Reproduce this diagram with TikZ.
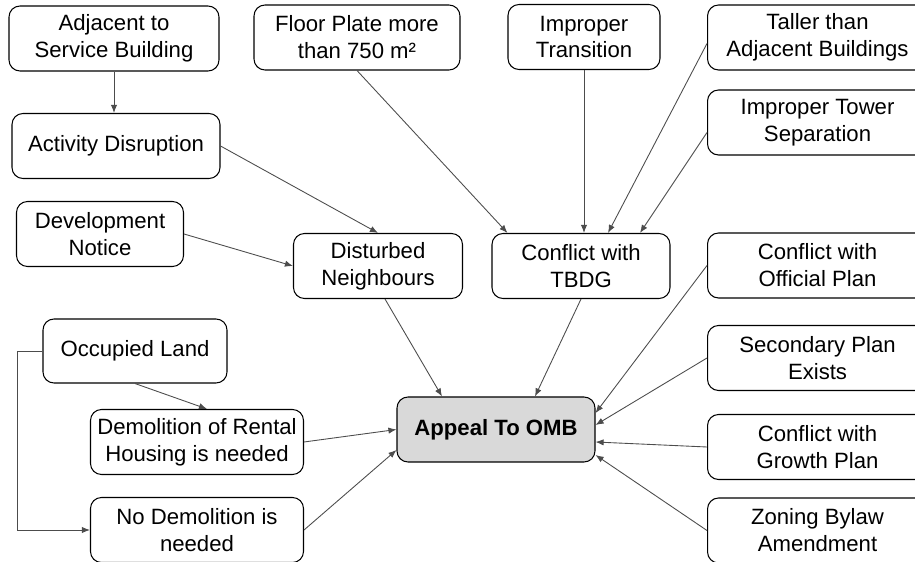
\documentclass[tikz,border=0pt]{standalone}
\usepackage{fontspec}
\setmainfont{Liberation Sans}
\usetikzlibrary{arrows.meta}

\begin{document}
\begin{tikzpicture}[>={Latex[length=4.6pt,width=3.6pt]},
    box/.style={draw, line width=0.6pt, rounded corners=0.22cm, align=center,
      minimum height=1.3cm, inner sep=0pt,
      font=\fontsize{12.6}{15.3}\selectfont},
    goal/.style={box, fill=black!15, font=\fontsize{12.6}{15.3}\selectfont\bfseries},
    link/.style={->, draw=black!70, line width=0.5pt}]

  \clip (0,0) rectangle (18.3,-11.24);

  % ============================================================
  % TOP ROW
  % ============================================================

  \node[box, minimum width=4.2cm]  (adj)   at (2.28,-0.77) {Adjacent to\\Service Building};
  \node[box, minimum width=4.12cm] (floor) at (7.14,-0.75) {Floor Plate more\\than 750 m²};
  \node[box, minimum width=3.04cm] (imptr) at (11.68,-0.74) {Improper\\Transition};

  % Right column (runs off the page)
  \node[box, minimum width=4.4cm, anchor=west] (tall)   at (14.14,-0.75)  {Taller than\\Adjacent Buildings};
  \node[box, minimum width=4.4cm, anchor=west] (tower)  at (14.14,-2.45)  {Improper Tower\\Separation};
  \node[box, minimum width=4.4cm, anchor=west] (off)    at (14.14,-5.31)  {Conflict with\\Official Plan};
  \node[box, minimum width=4.4cm, anchor=west] (sec)    at (14.14,-7.16)  {Secondary Plan\\Exists};
  \node[box, minimum width=4.4cm, anchor=west] (growth) at (14.14,-8.94)  {Conflict with\\Growth Plan};
  \node[box, minimum width=4.4cm, anchor=west] (zoning) at (14.14,-10.61) {Zoning Bylaw\\Amendment};

  % ============================================================
  % MIDDLE
  % ============================================================

  \node[box, minimum width=4.16cm] (act)  at (2.32,-2.92) {Activity Disruption};
  \node[box, minimum width=3.34cm] (dev)  at (2.0,-4.68)  {Development\\Notice};
  \node[box, minimum width=3.38cm] (dist) at (7.56,-5.32) {Disturbed\\Neighbours};
  \node[box, minimum width=3.56cm] (tbdg) at (11.62,-5.32) {Conflict with\\TBDG};

  % ============================================================
  % BOTTOM
  % ============================================================

  \node[box, minimum width=3.68cm, minimum height=1.28cm] (occ) at (2.7,-7.02) {Occupied Land};
  \node[box, minimum width=4.26cm] (demol) at (3.94,-8.84) {Demolition of Rental\\Housing is needed};
  \node[box, minimum width=4.26cm] (nodem) at (3.94,-10.6) {No Demolition is\\needed};

  \node[goal, minimum width=3.96cm] (omb) at (9.92,-8.59) {Appeal To OMB};

  % ============================================================
  % CONNECTORS
  % ============================================================

  \draw[link] (adj.south) -- (adj.south |- act.north);
  \draw[link] (act.east) -- (dist.north);
  \draw[link] (dev.east) -- (dist.west);

  % Into TBDG
  \draw[link] (floor.south) -- ([xshift=0.32cm]tbdg.north west);
  \draw[link] (imptr.south) -- (imptr.south |- tbdg.north);
  \draw[link] ([yshift=-0.12cm]tall.west) -- ([xshift=0.54cm]tbdg.north);
  \draw[link] ([yshift=-0.2cm]tower.west) -- ([xshift=1.18cm]tbdg.north);

  % Into the appeal
  \draw[link] (dist.south) ++(0.14,0) -- ([xshift=-1.08cm]omb.north);
  \draw[link] (tbdg.south) -- ([xshift=0.78cm]omb.north);
  \draw[link] (off.west) -- ([yshift=0.33cm]omb.east);
  \draw[link] (sec.west) -- ([yshift=0.09cm]omb.east);
  \draw[link] (growth.west) -- ([yshift=-0.25cm]omb.east);
  \draw[link] (zoning.west) -- ([yshift=-0.51cm]omb.east);
  \draw[link] (demol.east) -- (omb.west);
  \draw[link] (nodem.east) -- ([yshift=-0.41cm]omb.west);

  % Occupied land
  \draw[link] (occ.south) -- ([xshift=0.2cm]demol.north);
  \draw[link] (occ.west) -- ++(-0.5,0) |- (nodem.west);

\end{tikzpicture}
\end{document}
